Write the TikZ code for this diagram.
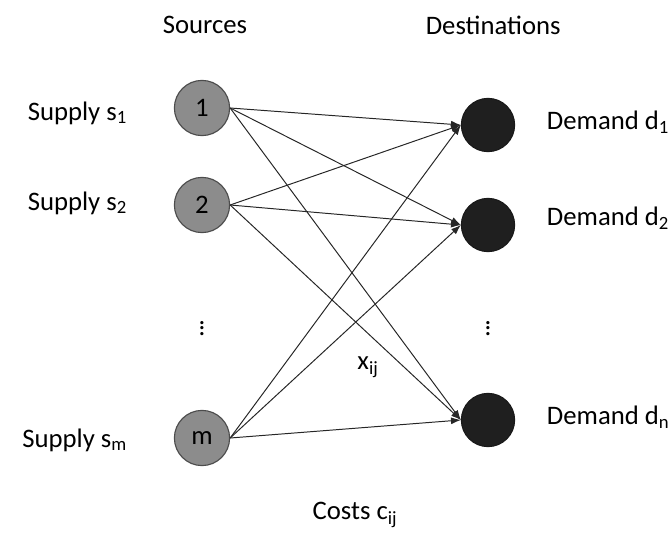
\documentclass[tikz,border=0pt]{standalone}
\usepackage{fontspec}
\setmainfont{Carlito}
\usepackage{tikz}
\usetikzlibrary{arrows.meta}

\begin{document}
\begin{tikzpicture}[
      source/.style={circle, draw=black!70, fill=black!45, line width=0.8pt, minimum size=1.38cm, inner sep=0pt},
      sink/.style={circle, draw=black!90, fill=black!88, line width=0.8pt, minimum size=1.33cm, inner sep=0pt},
      flow/.style={-{Latex[length=7pt,width=5pt]}, draw=black!85, line width=0.7pt},
      lbl/.style={font=\fontsize{19}{22}\selectfont},
      >=Latex
    ]
    \useasboundingbox (0,0) rectangle (16.8,13.325);

    % ---- column positions ----
    \def\xs{5.05}
    \def\xd{12.2}

    % ================= headers =================
    \node[lbl] (hs) at (5.125,12.7) {Sources};
    \node[lbl] (hd) at (12.33,12.7) {Destinations};

    % ================= sources =================
    \node[source, lbl] (s1) at (\xs,10.625) {1};
    \node[source, lbl] (s2) at (\xs,8.2) {2};
    \node[source, lbl] (sm) at (\xs,2.375) {m};
    \node[lbl] (vs) at (\xs,5.225) {$\vdots$};

    \node[lbl, anchor=east] (l1) at (3.3,10.5) {Supply s\textsubscript{1}};
    \node[lbl, anchor=east] (l2) at (3.3,8.25) {Supply s\textsubscript{2}};
    \node[lbl, anchor=east] (lm) at (3.3,2.325) {Supply s\textsubscript{m}};

    % ================= destinations =================
    \node[sink] (d1) at (\xd,10.2) {};
    \node[sink] (d2) at (\xd,7.7) {};
    \node[sink] (dn) at (\xd,2.825) {};
    \node[lbl] (vd) at (\xd,5.225) {$\vdots$};

    \node[lbl, anchor=west] (r1) at (13.55,10.275) {Demand d\textsubscript{1}};
    \node[lbl, anchor=west] (r2) at (13.55,7.875) {Demand d\textsubscript{2}};
    \node[lbl, anchor=west] (rn) at (13.55,2.9) {Demand d\textsubscript{n}};

    % ================= flows x_ij =================
    \foreach \s in {s1,s2,sm}
      \foreach \d in {d1,d2,dn}
        \draw[flow] (\s.east) -- (\d.west);

    \node[lbl] (xij) at (9.2,4.15) {x\textsubscript{ij}};
    \node[lbl] (cij) at (8.875,0.45) {Costs c\textsubscript{ij}};

    \end{tikzpicture}
\end{document}
